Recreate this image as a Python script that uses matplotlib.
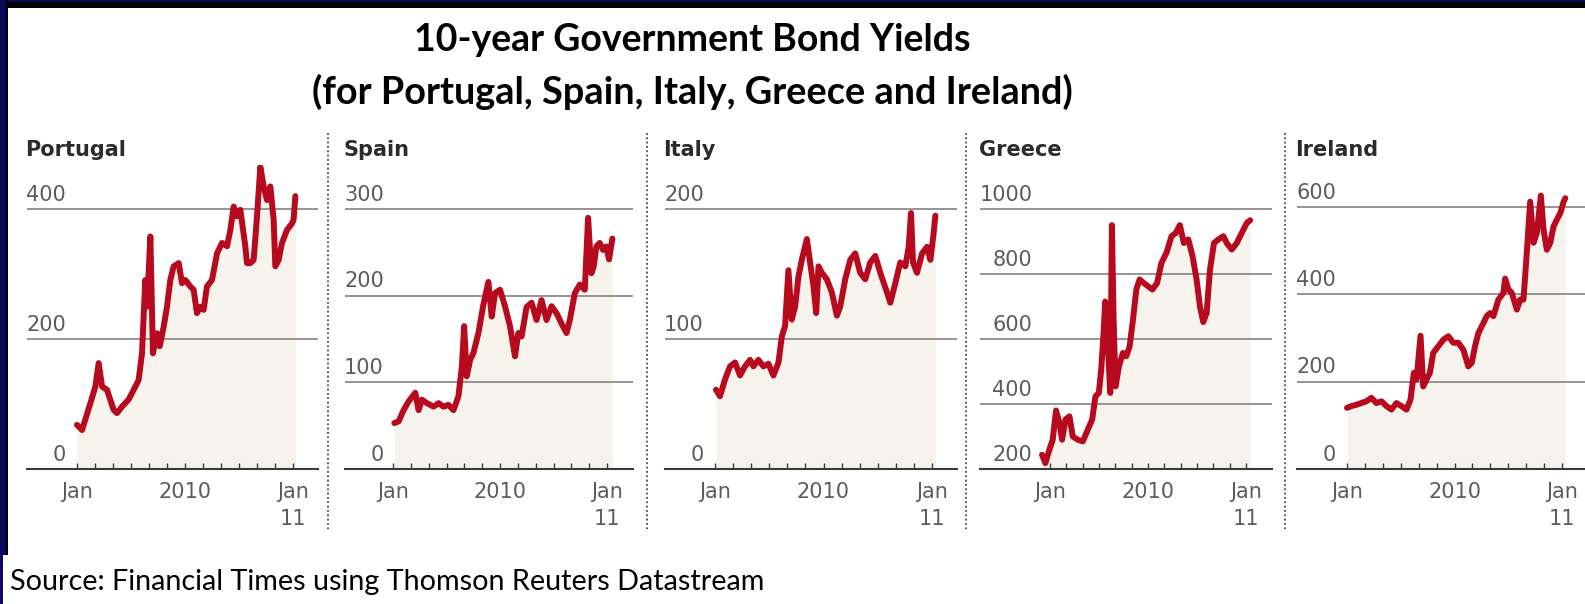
import matplotlib
matplotlib.use("Agg")
import matplotlib.pyplot as plt
from matplotlib.patches import Rectangle
from matplotlib.lines import Line2D

# spreads over German bunds, basis points; x = months since Jan 2009
portugal_months = [0.00, 0.56, 1.48, 2.04, 2.41, 2.78, 3.33, 4.07, 4.44, 5.00, 5.74, 6.30, 6.85, 7.22,
                   7.59, 7.78, 8.15, 8.44, 8.70, 8.89, 9.19, 9.63, 10.00, 10.37, 10.74, 11.30, 11.67,
                   12.04, 12.59, 12.96, 13.33, 13.70, 14.07, 14.44, 15.00, 15.56, 16.11, 16.67, 17.04,
                   17.41, 17.78, 18.15, 18.70, 18.89, 19.26, 19.63, 20.00, 20.37, 20.74, 21.11, 21.48,
                   21.85, 22.04, 22.41, 22.78, 23.33, 23.89, 24.07, 24.26]
portugal_values = [68, 60, 101, 127, 163, 127, 122, 91, 86, 96, 107, 122, 137, 178,
                   291, 250, 358, 178, 199, 209, 189, 219, 250, 291, 312, 317, 286,
                   291, 281, 276, 240, 250, 245, 281, 291, 332, 348, 343, 368,
                   404, 389, 399, 343, 317, 317, 322, 389, 465, 435, 414, 435,
                   384, 312, 322, 348, 368, 378, 384, 420]

spain_months = [0.15, 0.63, 1.19, 1.75, 2.50, 2.87, 3.24, 3.80, 4.55, 5.11, 5.67, 6.22, 6.78, 7.34,
                7.72, 7.98, 8.27, 8.65, 9.02, 9.58, 10.14, 10.70, 11.07, 11.44, 12.00, 12.56, 13.12,
                13.68, 14.05, 14.42, 14.98, 15.54, 16.10, 16.66, 17.22, 17.78, 18.34, 18.90, 19.46,
                19.83, 20.39, 20.95, 21.51, 21.88, 22.25, 22.51, 22.81, 23.18, 23.56, 23.93, 24.23,
                24.60]
spain_values = [53, 55, 68, 78, 88, 68, 80, 76, 72, 76, 72, 74, 68, 84,
                118, 165, 107, 126, 134, 157, 190, 216, 176, 203, 207, 188, 165,
                130, 157, 153, 187, 192, 172, 195, 172, 188, 180, 168, 157,
                172, 203, 213, 207, 290, 226, 234, 257, 261, 253, 257, 242,
                266]

italy_months = [0.11, 0.55, 1.11, 1.66, 2.22, 2.77, 3.32, 3.88, 4.25, 4.80, 5.35, 5.91, 6.46, 7.02,
                7.39, 7.75, 8.12, 8.49, 8.86, 9.23, 9.60, 10.16, 10.52, 10.89, 11.19, 11.45, 11.82,
                12.37, 12.92, 13.48, 13.85, 14.40, 14.96, 15.51, 16.06, 16.62, 17.17, 17.73, 18.28,
                19.02, 19.39, 19.94, 20.49, 21.05, 21.42, 21.68, 21.90, 22.34, 22.90, 23.45, 23.82,
                24.19, 24.37]
italy_values = [61, 56, 69, 79, 82, 72, 79, 84, 79, 84, 79, 81, 72, 82,
                102, 110, 153, 115, 125, 148, 161, 177, 159, 141, 120, 156, 151,
                146, 136, 118, 125, 146, 161, 166, 151, 146, 159, 164, 151,
                136, 128, 143, 159, 156, 171, 197, 159, 151, 166, 171, 161,
                182, 195]

greece_months = [-0.98, -0.57, -0.08, 0.33, 0.74, 1.15, 1.48, 1.89, 2.38, 2.79, 3.40, 4.02, 4.63,
                 5.16, 5.57, 5.98, 6.27, 6.56, 6.76, 7.09, 7.38, 7.58, 7.79, 8.03, 8.44, 8.93, 9.34,
                 9.75, 10.16, 10.57, 10.98, 11.48, 12.01, 12.54, 13.11, 13.65, 14.26, 14.88, 15.41,
                 15.90, 16.39, 16.93, 17.46, 17.95, 18.36, 18.77, 19.18, 19.59, 20.08, 20.61, 21.23,
                 21.64, 22.25, 22.87, 23.48, 24.10, 24.51]
greece_values = [244, 218, 259, 290, 380, 342, 290, 352, 362, 300, 290, 285, 321,
                 352, 424, 434, 506, 618, 715, 577, 434, 950, 659, 454, 516, 557, 547,
                 577, 659, 752, 783, 772, 762, 752, 772, 834, 865, 916, 926,
                 950, 895, 906, 854, 783, 700, 652, 680, 813, 895, 906, 916,
                 895, 875, 895, 926, 957, 965]

ireland_months = [0.00, 0.49, 1.04, 1.60, 2.16, 2.72, 3.28, 3.84, 4.40, 4.96, 5.52, 6.08, 6.64, 7.09,
                  7.46, 7.76, 8.21, 8.51, 8.88, 9.25, 9.63, 10.19, 10.75, 11.31, 11.87, 12.43, 12.99,
                  13.54, 13.92, 14.29, 14.66, 15.22, 15.60, 15.97, 16.34, 16.90, 17.46, 17.65, 18.02,
                  18.40, 18.96, 19.33, 19.70, 20.07, 20.45, 20.82, 21.19, 21.64, 21.94, 22.31, 22.69,
                  23.06, 23.43, 23.81, 24.18, 24.37]
ireland_values = [140, 144, 147, 151, 155, 163, 151, 155, 144, 136, 151, 144, 136, 159,
                  220, 205, 305, 189, 205, 220, 266, 281, 296, 304, 289, 289, 273,
                  235, 243, 281, 311, 334, 350, 357, 350, 388, 403, 436, 411,
                  403, 365, 388, 388, 495, 612, 518, 540, 626, 548, 502, 518,
                  556, 571, 586, 612, 620]

names = ["Portugal", "Spain", "Italy", "Greece", "Ireland"]
series = [(portugal_months, portugal_values), (spain_months, spain_values),
          (italy_months, italy_values), (greece_months, greece_values),
          (ireland_months, ireland_values)]
gridlines = [[0, 200, 400], [0, 100, 200, 300], [0, 100, 200],
             [200, 400, 600, 800, 1000], [0, 200, 400, 600]]
ylims = [(0, 468), (0, 351), (0, 234), (200, 1135), (0, 696)]

tick_months = list(range(0, 25, 2))
tick_labels = ["Jan", "", "", "", "", "", "2010", "", "", "", "", "", "Jan\n11"]

W, H = 1585, 604
fig = plt.figure(figsize=(W / 100, H / 100), dpi=100, facecolor="white")

# axes extents in pixels: left edge, right edge, x of Jan 2009, x of Jan 2011
panel_px = [(27, 318, 77, 293), (345, 633, 393, 607), (665, 957, 715, 932),
            (980, 1272, 1050, 1246), (1297, 1592, 1347, 1562)]
base_y, top_y = 469, 165

red = "#b80a1e"
fill = "#f5f3ec"
label_grey = "#5c5c5c"

for name, (mx, vals), grid, ylim, (l, r, j0, j1) in zip(names, series, gridlines, ylims, panel_px):
    ax = fig.add_axes([l / W, (H - base_y) / H, (r - l) / W, (base_y - top_y) / H])
    ppm = (j1 - j0) / 24
    ax.set_xlim(-(j0 - l) / ppm, 24 + (r - j1) / ppm)
    ax.set_ylim(*ylim)
    ax.set_facecolor("none")

    for g in grid[1:]:
        ax.axhline(g, color="#8c8c8c", lw=1.3, zorder=1)
    ax.fill_between(mx, ylim[0], vals, color=fill, lw=0, zorder=0)
    ax.plot(mx, vals, color=red, lw=4.3, solid_joinstyle="round", solid_capstyle="round", zorder=3)

    for s in ["top", "left", "right"]:
        ax.spines[s].set_visible(False)
    ax.spines["bottom"].set_color("#3a3a3a")
    ax.spines["bottom"].set_linewidth(1.5)
    ax.set_yticks([])
    ax.set_xticks(tick_months)
    ax.set_xticklabels(tick_labels, fontsize=15, color=label_grey, linespacing=1.45)
    ax.tick_params(axis="x", direction="in", length=4, width=1, color="#3a3a3a", pad=9)

    # value labels sit just above their gridline, right-aligned
    nmax = max(len(str(g)) for g in grid)
    right_pt = (nmax * 13.3 - 1) * 0.72
    for g in grid:
        ax.annotate(str(g), xy=(0, g), xycoords=("axes fraction", "data"),
                    xytext=(right_pt, 6), textcoords="offset points",
                    ha="right", va="baseline", fontsize=15, color=label_grey)

    ax.text(-0.005, (base_y - 150) / (base_y - top_y), name, transform=ax.transAxes,
            ha="left", va="center", fontsize=15, fontweight="bold", color="#2b2b2b")

# dotted dividers between panels
for x in [328, 647, 966, 1285]:
    fig.add_artist(Line2D([x / W, x / W], [(H - 133) / H, (H - 530) / H],
                          transform=fig.transFigure, color="#4a4a4a", lw=1.3,
                          linestyle=(0, (1, 1.4))))

fig.text(692 / W, 1 - 40 / H, "10-year Government Bond Yields", ha="center", va="center",
         fontsize=27, fontweight="bold", family="Lato", color="black")
fig.text(692 / W, 1 - 92 / H, "(for Portugal, Spain, Italy, Greece and Ireland)", ha="center",
         va="center", fontsize=27.3, fontweight="bold", family="Lato", color="black")
fig.text(10 / W, 1 - 582 / H, "Source: Financial Times using Thomson Reuters Datastream",
         ha="left", va="center", fontsize=20.7, family="Lato", color="black")

# dark frame along the top and left edges
fig.add_artist(Rectangle((0, 1 - 8 / H), 1, 8 / H, transform=fig.transFigure, color="black", lw=0))
fig.add_artist(Rectangle((0, 1 - 2 / H), 1, 2 / H, transform=fig.transFigure, color="#0a0a5c", lw=0))
fig.add_artist(Rectangle((0, 49 / H), 8 / W, 1 - 49 / H, transform=fig.transFigure, color="black", lw=0))
fig.add_artist(Rectangle((0, 49 / H), 6 / W, 1 - 49 / H, transform=fig.transFigure, color="#0a0a5c", lw=0))
fig.add_artist(Rectangle((0, 0), 3 / W, 49 / H, transform=fig.transFigure, color="#0a0a5c", lw=0))

fig.savefig("out.png", dpi=100, facecolor="white")
